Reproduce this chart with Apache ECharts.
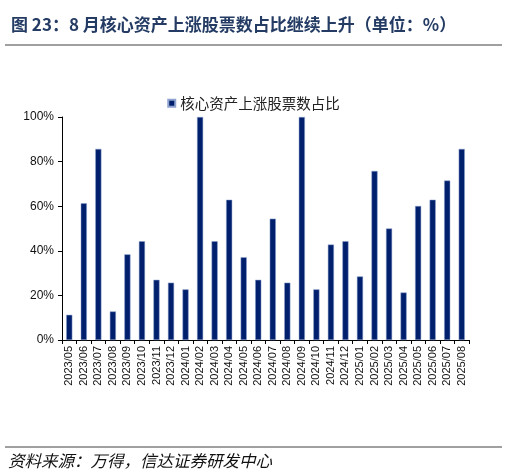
<!DOCTYPE html>
<html>
<head>
<meta charset="utf-8">
<script src="https://cdn.jsdelivr.net/npm/echarts@6/dist/echarts.min.js"></script>
<style>
html,body{margin:0;padding:0;background:#fff;}
#chart{width:507px;height:476px;}
</style>
</head>
<body>
<div id="chart"></div>
<script>
const categories = ['2023/05','2023/06','2023/07','2023/08','2023/09','2023/10','2023/11','2023/12',
  '2024/01','2024/02','2024/03','2024/04','2024/05','2024/06','2024/07','2024/08','2024/09','2024/10','2024/11','2024/12',
  '2025/01','2025/02','2025/03','2025/04','2025/05','2025/06','2025/07','2025/08'];
const shareValues = [11.3,61.3,85.7,12.8,38.4,44.3,27.0,25.7,
  22.7,100,44.3,62.9,37.1,27.0,54.4,25.7,100,22.7,42.8,44.3,
  28.5,75.8,50.0,21.3,60.1,62.9,71.5,85.7];
const yTicks = [0,20,40,60,80,100];
const seriesName = '核心资产上涨股票数占比';
const titleText = '图 23：8 月核心资产上涨股票数占比继续上升（单位：%）';
const sourceText = '资料来源：万得，信达证券研发中心';

const chart = echarts.init(document.getElementById('chart'));
chart.setOption({
  animation: false,
  backgroundColor: '#fff',
  title: {
    text: titleText,
    left: 6, top: 11,
    textStyle: {fontFamily: '"Noto Sans CJK SC", sans-serif', fontSize: 17, fontWeight: 'bold', color: '#243B64'}
  },
  legend: {
    data: [seriesName],
    top: 91, left: 'center',
    itemWidth: 7, itemHeight: 7, itemGap: 4,
    icon: 'rect',
    textStyle: {fontFamily: '"Noto Sans CJK SC", sans-serif', fontSize: 14.5, color: '#222'}
  },
  grid: {left: 62, right: 38, top: 117, bottom: 136, containLabel: false},
  xAxis: {
    type: 'category',
    data: categories,
    axisLine: {lineStyle: {color: '#000', width: 1}},
    axisTick: {show: true, alignWithLabel: false, length: 4, lineStyle: {color: '#000'}},
    axisLabel: {rotate: 90, interval: 0, fontFamily: 'Liberation Sans, Arial', fontSize: 11, color: '#111', margin: 6}
  },
  yAxis: {
    type: 'value',
    min: 0, max: 100, interval: 20,
    splitLine: {show: false},
    axisLine: {show: true, lineStyle: {color: '#000', width: 1}},
    axisTick: {show: true, length: 4, lineStyle: {color: '#000'}},
    axisLabel: {formatter: v => yTicks.includes(v) ? v + '%' : '', fontFamily: 'Liberation Sans, Arial', fontSize: 12, color: '#111', margin: 8}
  },
  series: [{
    name: seriesName,
    type: 'bar',
    data: shareValues,
    barWidth: '42%',
    itemStyle: {color: '#00206E', borderColor: '#8FA3CF', borderWidth: 0.5}
  }],
  graphic: [
    {type: 'line', shape: {x1: 5, y1: 45, x2: 502, y2: 45}, style: {stroke: '#808080', lineWidth: 1.5}},
    {type: 'line', shape: {x1: 5, y1: 447, x2: 502, y2: 447}, style: {stroke: '#808080', lineWidth: 1.5}},
    {type: 'text', left: 8, top: 452, style: {text: sourceText, font: 'italic 16.5px "Noto Sans CJK SC", sans-serif', fill: '#111'}}
  ]
});
</script>
</body>
</html>
